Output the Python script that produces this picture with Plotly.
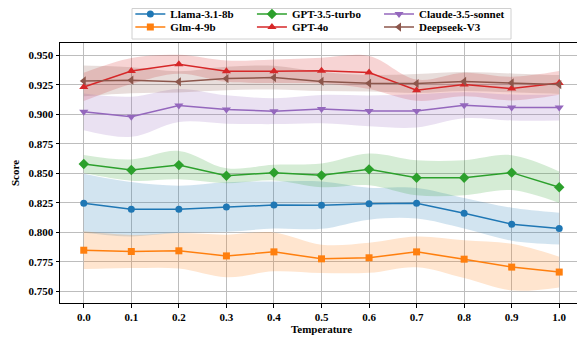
import plotly.graph_objects as go

temperature = [0.0, 0.1, 0.2, 0.3, 0.4, 0.5, 0.6, 0.7, 0.8, 0.9, 1.0]

llama = [0.8247, 0.8196, 0.8196, 0.8215, 0.8232, 0.8230, 0.8243, 0.8247, 0.8162, 0.8069, 0.8032]
llama_std = [0.025, 0.023, 0.020, 0.021, 0.020, 0.020, 0.0135, 0.013, 0.013, 0.014, 0.0135]

glm = [0.7849, 0.7838, 0.7844, 0.7801, 0.7835, 0.7776, 0.7785, 0.7835, 0.7773, 0.7706, 0.7664]
glm_std = [0.016, 0.014, 0.015, 0.018, 0.0165, 0.012, 0.0127, 0.013, 0.016, 0.0197, 0.013]

gpt35 = [0.8579, 0.8528, 0.8570, 0.8480, 0.8506, 0.8483, 0.8534, 0.8463, 0.8463, 0.8506, 0.8382]
gpt35_std = [0.0077, 0.009, 0.012, 0.0063, 0.0066, 0.010, 0.0134, 0.0148, 0.0148, 0.0148, 0.0134]

gpt4o = [0.9232, 0.9367, 0.9424, 0.9365, 0.9365, 0.9370, 0.9354, 0.9204, 0.9252, 0.9218, 0.9266]
gpt4o_std = [0.012, 0.011, 0.008, 0.009, 0.010, 0.011, 0.014, 0.009, 0.010, 0.010, 0.010]

claude = [0.9021, 0.8979, 0.9075, 0.9041, 0.9027, 0.9044, 0.9029, 0.9029, 0.9077, 0.9058, 0.9058]
claude_std = [0.0155, 0.017, 0.014, 0.012, 0.011, 0.012, 0.013, 0.014, 0.011, 0.011, 0.011]

deepseek = [0.9283, 0.9289, 0.9275, 0.9303, 0.9311, 0.9278, 0.9263, 0.9261, 0.9278, 0.9266, 0.9252]
deepseek_std = [0.013, 0.011, 0.009, 0.010, 0.010, 0.008, 0.007, 0.008, 0.008, 0.008, 0.008]

y_ticks = [0.750, 0.775, 0.800, 0.825, 0.850, 0.875, 0.900, 0.925, 0.950]

series = [
    # name, values, std, color, band rgba, symbol, size, legend column, legend row
    ("Llama-3.1-8b", llama, llama_std, "#1f77b4", "rgba(31,119,180,0.2)", "circle", 7, 0, 0),
    ("Glm-4-9b", glm, glm_std, "#ff7f0e", "rgba(255,127,14,0.2)", "square", 7, 0, 1),
    ("GPT-3.5-turbo", gpt35, gpt35_std, "#2ca02c", "rgba(44,160,44,0.2)", "diamond", 8, 1, 0),
    ("GPT-4o", gpt4o, gpt4o_std, "#d62728", "rgba(214,39,40,0.2)", "triangle-up", 8, 1, 1),
    ("Claude-3.5-sonnet", claude, claude_std, "#9467bd", "rgba(148,103,189,0.2)", "triangle-down", 8, 2, 0),
    ("Deepseek-V3", deepseek, deepseek_std, "#8c564b", "rgba(140,86,75,0.2)", "triangle-left", 8, 2, 1),
]

fig = go.Figure()

# bands
for name, vals, std, col, band, sym, sz, c, r in series:
    upper = [v + s for v, s in zip(vals, std)]
    lower = [v - s for v, s in zip(vals, std)]
    fig.add_trace(go.Scatter(x=temperature, y=upper, mode="lines",
                             line=dict(width=0, shape="spline", smoothing=1.0),
                             showlegend=False, hoverinfo="skip"))
    fig.add_trace(go.Scatter(x=temperature, y=lower, mode="lines",
                             line=dict(width=0, shape="spline", smoothing=1.0),
                             fill="tonexty", fillcolor=band,
                             showlegend=False, hoverinfo="skip"))

font_family = "Liberation Serif"
col_x = [0.1345, 0.367, 0.610]
row_y = [1.1115, 1.0615]
legends = {}

# lines
for i, (name, vals, std, col, band, sym, sz, c, r) in enumerate(series):
    key = "legend" if i == 0 else "legend%d" % (i + 1)
    fig.add_trace(go.Scatter(x=temperature, y=vals, mode="lines+markers", name=name,
                             line=dict(color=col, width=1.5),
                             marker=dict(symbol=sym, size=sz, color=col),
                             legend=key))
    legends[key] = dict(orientation="h", xanchor="left", yanchor="middle",
                        x=col_x[c], y=row_y[r],
                        bgcolor="rgba(0,0,0,0)", borderwidth=0, itemwidth=30,
                        font=dict(family=font_family, size=11, color="black", weight="bold"))

# page has an 8px body margin; figure is sized/offset to compensate
fig.update_layout(
    width=577, height=330,
    margin=dict(l=52, r=2, t=35, b=35, autoexpand=False),
    plot_bgcolor="white", paper_bgcolor="white",
    font=dict(family=font_family, size=11, color="black", weight="bold"),
    showlegend=True,
    **legends,
)

fig.add_shape(type="rect", xref="paper", yref="paper",
              x0=(132 - 60) / 523, x1=(511 - 60) / 523,
              y0=1 + (43 - 39) / 260, y1=1 + (43 - 8.5) / 260,
              line=dict(color="#d0d0d0", width=1), fillcolor="rgba(0,0,0,0)", layer="above")

fig.update_xaxes(
    range=[-0.05, 1.05], tickvals=temperature, tickformat=".1f",
    showgrid=True, gridcolor="#bdbdbd", gridwidth=1,
    showline=True, linecolor="black", linewidth=1, mirror=True,
    ticks="outside", ticklen=3.5, tickcolor="black",
    tickfont=dict(family=font_family, size=11, color="black", weight="bold"),
    title=dict(text="Temperature", standoff=2,
               font=dict(family=font_family, size=11, color="black", weight="bold")),
    zeroline=False, automargin=False,
)
fig.update_yaxes(
    range=[0.7402, 0.9604], tickvals=y_ticks, tickformat=".3f",
    showgrid=True, gridcolor="#bdbdbd", gridwidth=1,
    showline=True, linecolor="black", linewidth=1, mirror=True,
    ticks="outside", ticklen=3.5, tickcolor="black",
    tickfont=dict(family=font_family, size=11, color="black", weight="bold"),
    title=dict(text="Score", standoff=6,
               font=dict(family=font_family, size=11, color="black", weight="bold")),
    zeroline=False, automargin=False,
)

fig.write_html("out.html")
